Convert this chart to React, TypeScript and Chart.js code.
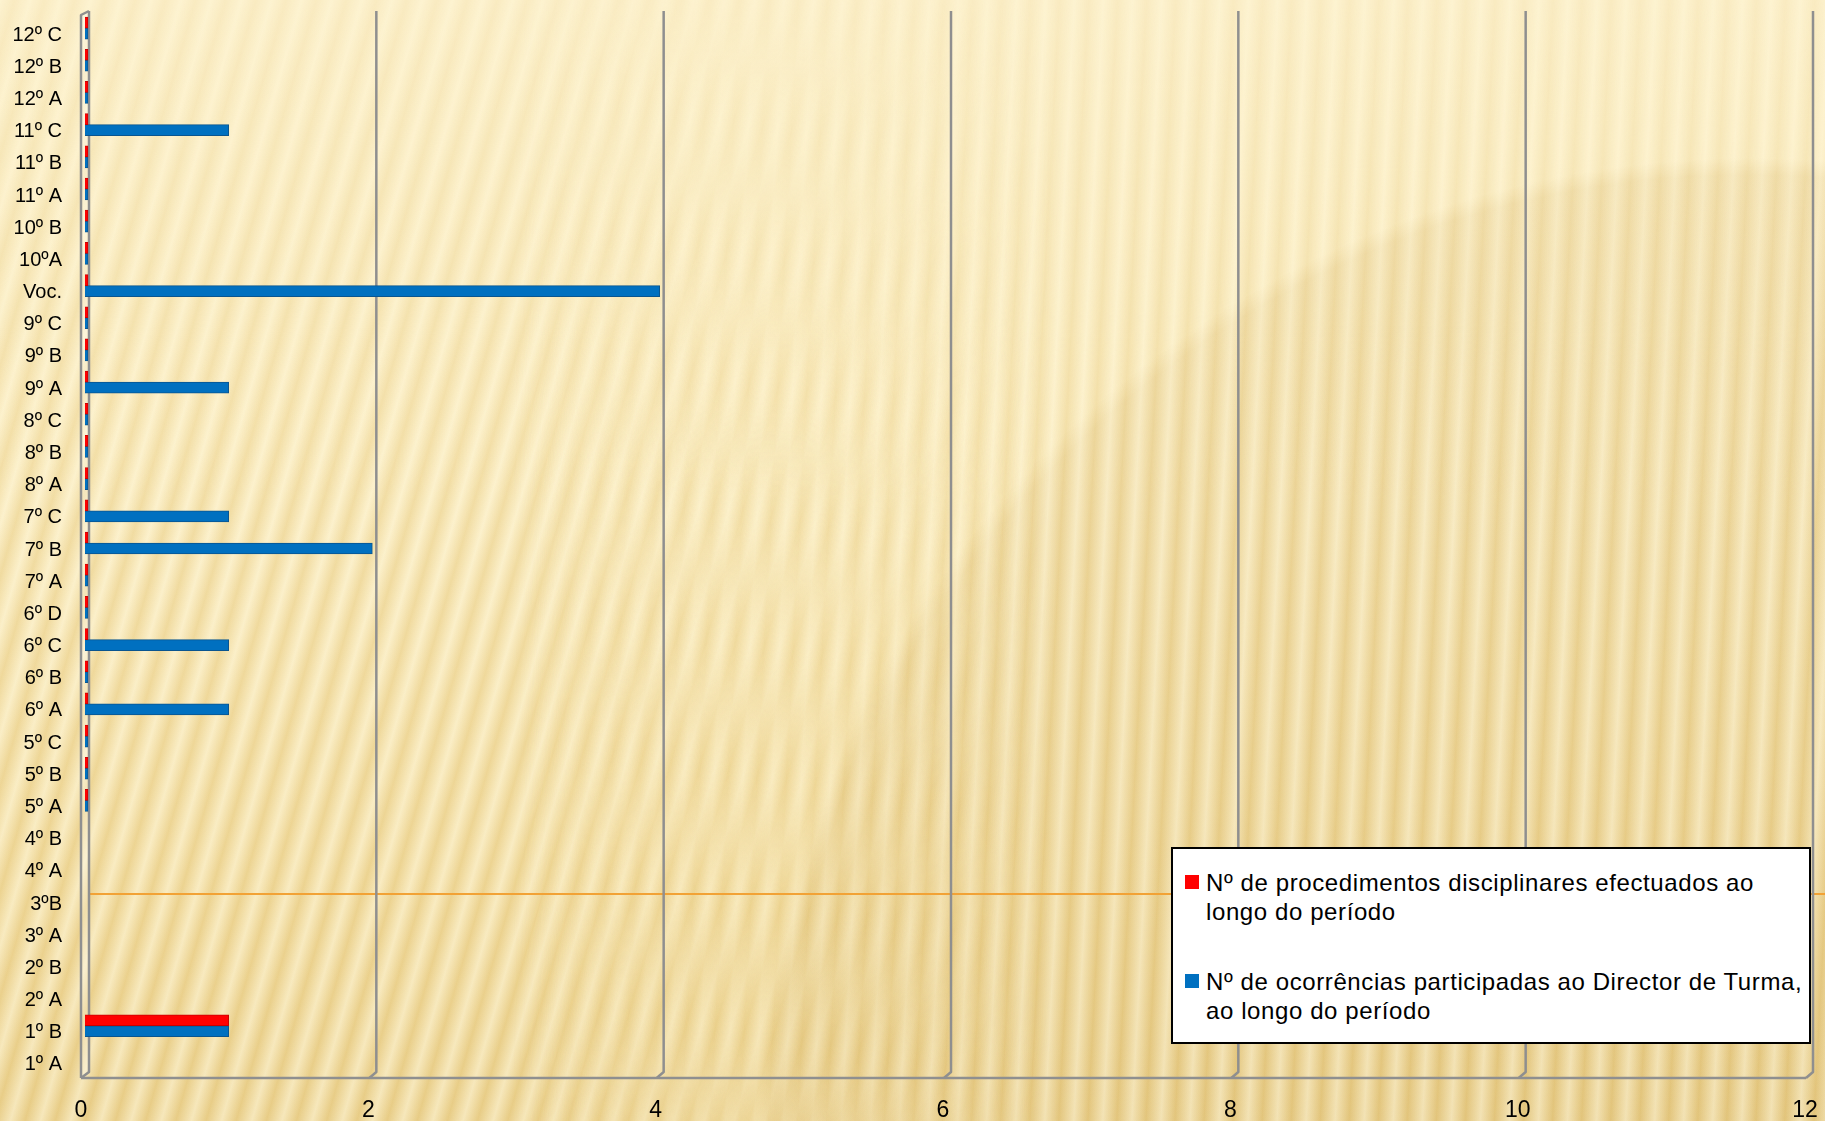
import React, { useEffect, useRef } from "react";
import { Chart, registerables } from "chart.js";

Chart.register(...registerables);

// Categories listed bottom-to-top as in the reference
const categories = [
  "1º A", "1º B", "2º A", "2º B", "3º A", "3ºB", "4º A", "4º B",
  "5º A", "5º B", "5º C", "6º A", "6º B", "6º C", "6º D",
  "7º A", "7º B", "7º C", "8º A", "8º B", "8º C",
  "9º A", "9º B", "9º C", "Voc.", "10ºA", "10º B",
  "11º A", "11º B", "11º C", "12º A", "12º B", "12º C",
];

const procedimentos: (number | null)[] = [
  null, 1, null, null, null, null, null, null,
  0, 0, 0, 0, 0, 0, 0,
  0, 0, 0, 0, 0, 0,
  0, 0, 0, 0, 0, 0,
  0, 0, 0, 0, 0, 0,
];

const ocorrencias: (number | null)[] = [
  null, 1, null, null, null, null, null, null,
  0, 0, 0, 1, 0, 1, 0,
  0, 2, 1, 0, 0, 0,
  1, 0, 0, 4, 0, 0,
  0, 0, 1, 0, 0, 0,
];

const xTicks = [0, 2, 4, 6, 8, 10, 12];

const seriesNames = [
  ["Nº de procedimentos disciplinares efectuados ao", "longo do período"],
  ["Nº de ocorrências participadas ao Director de Turma,", "ao longo do período"],
];
const seriesColors = ["#FF0000", "#0070C0"];
const seriesBorders = ["#C80000", "#0A558F"];

const FONT = "'Liberation Sans', Arial, sans-serif";

const framePlugin = {
  id: "frame3d",
  beforeDatasetsDraw(chart: any) {
    const { ctx, chartArea, scales } = chart;
    const { left, right, top, bottom } = chartArea;
    const x = scales.x;
    const backTop = top - 1;
    const frontTop = top + 3;
    const backBottom = bottom - 2;
    const floor = bottom + 4;
    ctx.save();
    ctx.fillStyle = "rgba(255,255,255,0.25)";
    ctx.beginPath();
    ctx.moveTo(left - 4, frontTop);
    ctx.lineTo(left + 4, backTop);
    ctx.lineTo(left + 4, backBottom);
    ctx.lineTo(left - 4, floor);
    ctx.closePath();
    ctx.fill();

    ctx.strokeStyle = "#8f8f8f";
    ctx.lineWidth = 2.5;
    ctx.lineJoin = "round";
    xTicks.forEach((v) => {
      if (v === 0) return;
      const px = x.getPixelForValue(v);
      ctx.beginPath();
      ctx.moveTo(px + 4, backTop);
      ctx.lineTo(px + 4, backBottom);
      ctx.lineTo(px - 3, floor);
      ctx.stroke();
    });
    ctx.beginPath();
    ctx.moveTo(left + 4, backTop);
    ctx.lineTo(left + 4, backBottom);
    ctx.lineTo(left - 4, floor);
    ctx.stroke();
    ctx.beginPath();
    ctx.moveTo(left + 4, backTop);
    ctx.lineTo(left - 4, frontTop);
    ctx.lineTo(left - 4, floor);
    ctx.stroke();
    ctx.beginPath();
    ctx.moveTo(left - 4, floor);
    ctx.lineTo(right - 3, floor);
    ctx.stroke();
    ctx.restore();
  },
};

export default function App() {
  const canvasRef = useRef<HTMLCanvasElement | null>(null);

  useEffect(() => {
    if (!canvasRef.current) return;
    const chart = new Chart(canvasRef.current, {
      type: "bar",
      data: {
        labels: categories,
        datasets: [
          {
            label: seriesNames[0].join(" "),
            data: procedimentos,
            backgroundColor: seriesColors[0],
            borderColor: seriesBorders[0],
            borderWidth: 1,
            barThickness: 11,
            minBarLength: 3,
          },
          {
            label: seriesNames[1].join(" "),
            data: ocorrencias,
            backgroundColor: seriesColors[1],
            borderColor: seriesBorders[1],
            borderWidth: 1,
            barThickness: 11,
            minBarLength: 3,
          },
        ],
      },
      options: {
        indexAxis: "y",
        animation: false,
        responsive: false,
        maintainAspectRatio: false,
        layout: { padding: { top: 12, right: 16, left: 0, bottom: 0 } },
        plugins: {
          legend: { display: false },
          tooltip: { enabled: false },
        },
        scales: {
          y: {
            type: "category",
            reverse: true,
            grid: { display: false, drawTicks: false },
            border: { display: false },
            ticks: {
              color: "#000",
              padding: 23,
              labelOffset: 7,
              autoSkip: false,
              font: { family: FONT, size: 20 },
            },
            afterFit: (s: any) => {
              s.width = 85;
              s.paddingTop = 0;
              s.paddingBottom = 0;
            },
          },
          x: {
            type: "linear",
            min: 0,
            max: 12,
            afterBuildTicks: (s: any) => {
              s.ticks = xTicks.map((v) => ({ value: v }));
            },
            grid: { display: false, drawTicks: false },
            border: { display: false },
            ticks: {
              color: "#000",
              padding: 23,
              labelOffset: -4,
              maxRotation: 0,
              font: { family: FONT, size: 23 },
            },
            afterFit: (s: any) => {
              s.height = 47;
              s.paddingLeft = 0;
              s.paddingRight = 0;
            },
          },
        },
      },
      plugins: [framePlugin],
    });
    return () => chart.destroy();
  }, []);

  const baseBg = [
    "radial-gradient(circle 990px at 1750px 1150px, rgba(200,160,75,0.20) 0px, rgba(200,160,75,0.16) 975px, rgba(200,160,75,0) 992px)",
    "linear-gradient(180deg, #FDF1CB 0%, #FAEAB9 40%, #F3DD9F 78%, #EDD491 100%)",
  ].join(",");

  const stripeA =
    "repeating-linear-gradient(106deg, rgba(255,250,228,0.5) 0px, rgba(212,175,92,0.2) 14px, rgba(255,250,228,0.5) 29px)";
  const stripeB =
    "repeating-linear-gradient(93deg, rgba(255,250,228,0.5) 0px, rgba(212,175,92,0.2) 14px, rgba(255,250,228,0.5) 29px)";
  const maskLeft = "linear-gradient(90deg, #000 0%, #000 28%, transparent 58%)";
  const maskRight = "linear-gradient(90deg, transparent 28%, #000 58%)";
  const maskTop = "linear-gradient(180deg, rgba(0,0,0,0.45) 0%, #000 45%)";

  return (
    <div
      style={{
        position: "fixed",
        left: 0,
        top: 0,
        width: 1825,
        height: 1121,
        overflow: "hidden",
        background: baseBg,
      }}
    >
      <div
        style={{
          position: "absolute",
          inset: 0,
          WebkitMaskImage: maskTop,
          maskImage: maskTop,
        } as any}
      >
        <div
          style={{
            position: "absolute",
            inset: 0,
            background: stripeA,
            WebkitMaskImage: maskLeft,
            maskImage: maskLeft,
          } as any}
        />
        <div
          style={{
            position: "absolute",
            inset: 0,
            background: stripeB,
            WebkitMaskImage: maskRight,
            maskImage: maskRight,
          } as any}
        />
      </div>
      <div
        style={{
          position: "absolute",
          left: 90,
          top: 893,
          width: 1735,
          height: 1.5,
          background: "#F2A235",
        }}
      />
      <canvas
        ref={canvasRef}
        width={1825}
        height={1121}
        style={{ position: "absolute", left: 0, top: 0, width: 1825, height: 1121 }}
      />
      <div
        style={{
          position: "absolute",
          left: 1171,
          top: 847,
          width: 640,
          height: 197,
          boxSizing: "border-box",
          border: "2px solid #000",
          background: "#fff",
          fontFamily: FONT,
          fontSize: 24,
          letterSpacing: "0.6px",
          color: "#000",
        }}
      >
        {seriesNames.map((lines, i) => (
          <div
            key={i}
            style={{
              position: "absolute",
              left: 12,
              top: i === 0 ? 18.8 : 117.8,
              whiteSpace: "nowrap",
            }}
          >
            <div
              style={{
                position: "absolute",
                left: 0,
                top: 7.2,
                width: 14,
                height: 14,
                background: seriesColors[i],
              }}
            />
            <div style={{ marginLeft: 21, lineHeight: "29px" }}>
              {lines.map((l, j) => (
                <div key={j}>{l}</div>
              ))}
            </div>
          </div>
        ))}
      </div>
    </div>
  );
}
